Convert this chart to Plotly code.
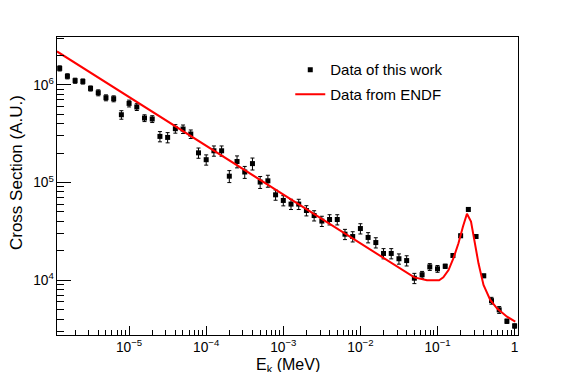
import plotly.graph_objects as go


# === Data ===

energy = [1.259e-6, 1.585e-6, 1.995e-6, 2.512e-6, 3.162e-6, 3.981e-6, 5.012e-6, 6.310e-6, 7.943e-6, 1.0e-5,
          1.259e-5, 1.585e-5, 1.995e-5, 2.512e-5, 3.162e-5, 3.981e-5, 5.012e-5, 6.310e-5, 7.943e-5, 1.0e-4,
          1.259e-4, 1.585e-4, 1.995e-4, 2.512e-4, 3.162e-4, 3.981e-4, 5.012e-4, 6.310e-4, 7.943e-4, 1.0e-3,
          1.259e-3, 1.585e-3, 1.995e-3, 2.512e-3, 3.162e-3, 3.981e-3, 5.012e-3, 6.310e-3, 7.943e-3, 1.0e-2,
          1.259e-2, 1.585e-2, 1.995e-2, 2.512e-2, 3.162e-2, 3.981e-2, 5.012e-2, 6.310e-2, 7.943e-2, 1.0e-1,
          0.1259, 0.1585, 0.1995, 0.2512, 0.3162, 0.3981, 0.5012, 0.6310, 0.7943, 1.0]

xsec = [1.47e6, 1.22e6, 1.10e6, 1.08e6, 9.16e5, 8.28e5, 7.36e5, 7.19e5, 4.93e5, 6.44e5,
        5.92e5, 4.56e5, 4.46e5, 2.96e5, 2.89e5, 3.55e5, 3.52e5, 3.13e5, 2.01e5, 1.71e5,
        2.11e5, 2.11e5, 1.16e5, 1.64e5, 1.28e5, 1.56e5, 1.01e5, 1.04e5, 7.48e4, 6.55e4,
        6.01e4, 6.01e4, 5.17e4, 4.59e4, 4.03e4, 4.18e4, 4.18e4, 2.96e4, 2.80e4, 3.38e4,
        2.74e4, 2.43e4, 1.88e4, 1.88e4, 1.66e4, 1.59e4, 1.05e4, 1.14e4, 1.37e4, 1.31e4,
        1.39e4, 1.79e4, 2.85e4, 5.30e4, 2.80e4, 1.11e4, 6.19e3, 4.98e3, 3.81e3, 3.41e3]

rel_err = [0.06, 0.06, 0.06, 0.06, 0.06, 0.07, 0.07, 0.07, 0.10, 0.08,
           0.08, 0.08, 0.08, 0.12, 0.12, 0.10, 0.10, 0.10, 0.12, 0.12,
           0.12, 0.12, 0.14, 0.14, 0.14, 0.14, 0.14, 0.14, 0.12, 0.12,
           0.12, 0.12, 0.12, 0.12, 0.12, 0.12, 0.12, 0.12, 0.12, 0.12,
           0.12, 0.12, 0.12, 0.12, 0.12, 0.12, 0.12, 0.08, 0.08, 0.08,
           0.05, 0.04, 0.04, 0.04, 0.04, 0.04, 0.08, 0.08, 0.05, 0.05]

endf_energy = [1.16e-6, 1e-5, 1e-4, 1e-3, 1e-2, 0.03, 0.05, 0.073, 0.105, 0.119, 0.139, 0.161,
               0.187, 0.214, 0.241, 0.272, 0.30, 0.34, 0.395, 0.483, 0.59, 0.797, 1.02]
endf_xsec = [2.19e6, 7.47e5, 2.36e5, 7.47e4, 2.36e4, 1.365e4, 1.07e4, 1.0e4, 1.0e4, 1.07e4, 1.27e4, 1.68e4,
             2.39e4, 3.54e4, 4.78e4, 3.98e4, 2.58e4, 1.49e4, 8950, 6280, 5160, 4240, 3770]

err = [v * r for v, r in zip(xsec, rel_err)]


# === Figure ===

fig = go.Figure()
fig.add_trace(go.Scatter(
    x=energy, y=xsec, mode="markers", name="Data of this work",
    marker=dict(symbol="square", size=5, color="black"),
    error_y=dict(type="data", array=err, color="black", thickness=1, width=2),
    legendgroup="a",
))
fig.add_trace(go.Scatter(
    x=endf_energy, y=endf_xsec, mode="lines", name="Data from ENDF",
    line=dict(color="red", width=2),
    legendgroup="b",
))

font = "Liberation Sans, Arial, sans-serif"
fig.update_layout(
    width=575, height=372,
    margin=dict(l=57, r=57, t=37, b=37),
    plot_bgcolor="white", paper_bgcolor="white",
    font=dict(family=font, color="black", size=11),
    showlegend=True,
    legend=dict(x=0.506, y=0.945, xanchor="left", yanchor="top",
                font=dict(size=15), bgcolor="rgba(0,0,0,0)",
                tracegroupgap=2),
    xaxis=dict(
        type="log", range=[-5.935, 0.044], dtick=1,
        exponentformat="power", showgrid=False, zeroline=False,
        showline=True, linecolor="black", linewidth=1, mirror=True,
        ticks="inside", ticklen=9, tickcolor="black",
        minor=dict(ticks="inside", ticklen=5, tickcolor="black", showgrid=False),
    ),
    yaxis=dict(
        type="log", range=[3.44, 6.488], dtick=1,
        exponentformat="power", showgrid=False, zeroline=False,
        showline=True, linecolor="black", linewidth=1, mirror=True,
        ticks="inside", ticklen=14, tickcolor="black",
        minor=dict(ticks="inside", ticklen=7, tickcolor="black", showgrid=False),
    ),
    annotations=[
        dict(text="E<sub>k</sub> (MeV)", x=0.5, y=-0.064, xref="paper", yref="paper",
             xanchor="center", yanchor="top", showarrow=False, font=dict(size=16)),
        dict(text="Cross Section (A.U.)", x=-0.088, y=0.545, xref="paper", yref="paper",
             xanchor="center", yanchor="middle", textangle=-90, showarrow=False,
             font=dict(size=17)),
    ],
)

fig.write_html("out.html", config={"displayModeBar": False},
               post_script="document.body.style.margin='0';")
